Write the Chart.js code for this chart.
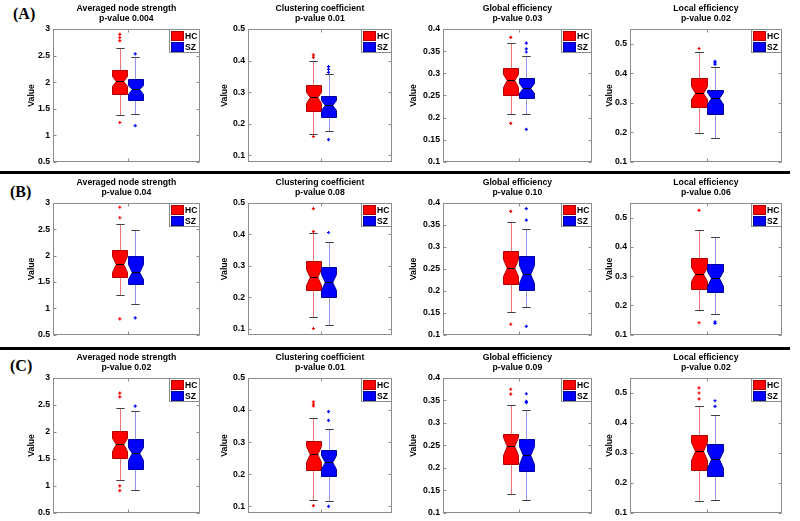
<!DOCTYPE html>
<html><head><meta charset="utf-8">
<script src="https://cdn.jsdelivr.net/npm/chart.js@4.4.1/dist/chart.umd.min.js"></script>
<style>
html,body{margin:0;padding:0;background:#fff;}
#wrap{position:relative;width:800px;height:521px;overflow:hidden;background:#fff;}
#wrap canvas{position:absolute;}
.rowlab{position:absolute;font:bold 16px "Liberation Serif","Times New Roman",serif;line-height:16px;color:#000;white-space:nowrap;}
.sep{position:absolute;left:0;width:790px;height:3px;background:#000;}
</style></head><body><div id="wrap"></div>
<script>
// ---------- data ----------
const rowLabels = ['(A)', '(B)', '(C)'];
const metricNames = ['Averaged node strength', 'Clustering coefficient', 'Global efficiency', 'Local efficiency'];
const pValues = [['0.004', '0.01', '0.03', '0.02'], ['0.04', '0.08', '0.10', '0.06'], ['0.02', '0.01', '0.09', '0.02']];
const groupLabels = ['HC', 'SZ'];
const yMins = [0.5, 0.08, 0.1, 0.1];
const yMaxs = [3, 0.5, 0.4, 0.55];
const yTicks = [[0.5, 1, 1.5, 2, 2.5, 3], [0.1, 0.2, 0.3, 0.4, 0.5], [0.1, 0.15, 0.2, 0.25, 0.3, 0.35, 0.4], [0.1, 0.2, 0.3, 0.4, 0.5]];

// HC statistics [row][metric]
const hcQ1 = [[1.775, 0.242, 0.251, 0.286], [1.595, 0.223, 0.216, 0.258], [1.51, 0.213, 0.208, 0.244]];
const hcMedian = [[2.02, 0.284, 0.284, 0.334], [1.85, 0.265, 0.253, 0.308], [1.77, 0.263, 0.248, 0.305]];
const hcQ3 = [[2.22, 0.323, 0.313, 0.383], [2.11, 0.315, 0.291, 0.362], [2.025, 0.305, 0.275, 0.359]];
const hcLowWhisker = [[1.38, 0.167, 0.207, 0.199], [1.25, 0.138, 0.152, 0.185], [1.11, 0.119, 0.141, 0.139]];
const hcHighWhisker = [[2.65, 0.40, 0.368, 0.472], [2.61, 0.404, 0.356, 0.457], [2.45, 0.374, 0.341, 0.455]];
const hcNotch = [[0.10, 0.018, 0.015, 0.022], [0.15, 0.026, 0.02, 0.025], [0.12, 0.025, 0.02, 0.03]];
const hcOutliers = [
  [[2.9, 2.84, 2.78, 1.24], [0.418, 0.41, 0.16], [0.381, 0.187], [0.484]],
  [[2.92, 2.72, 0.8], [0.482, 0.409, 0.1], [0.381, 0.124], [0.525, 0.141]],
  [[2.72, 2.65, 1.0, 0.91], [0.426, 0.419, 0.413, 0.102], [0.375, 0.364], [0.517, 0.5, 0.48]]
];
// SZ statistics [row][metric]
const szQ1 = [[1.67, 0.223, 0.243, 0.262], [1.46, 0.202, 0.202, 0.246], [1.32, 0.195, 0.192, 0.224]];
const szMedian = [[1.87, 0.26, 0.267, 0.316], [1.70, 0.249, 0.238, 0.293], [1.6, 0.237, 0.229, 0.278]];
const szQ3 = [[2.06, 0.288, 0.29, 0.344], [2.0, 0.296, 0.28, 0.343], [1.87, 0.276, 0.265, 0.331]];
const szLowWhisker = [[1.4, 0.176, 0.207, 0.182], [1.08, 0.112, 0.163, 0.172], [0.93, 0.118, 0.128, 0.142]];
const szHighWhisker = [[2.47, 0.357, 0.338, 0.42], [2.49, 0.377, 0.341, 0.435], [2.38, 0.342, 0.328, 0.427]];
const szNotch = [[0.085, 0.015, 0.012, 0.019], [0.15, 0.026, 0.02, 0.025], [0.12, 0.022, 0.02, 0.028]];
const szOutliers = [
  [[2.53, 1.18], [0.381, 0.372, 0.363, 0.15], [0.368, 0.355, 0.348, 0.173], [0.44, 0.435, 0.43]],
  [[0.82], [0.406], [0.387, 0.361, 0.119], [0.144, 0.139]],
  [[2.48], [0.395, 0.368, 0.1], [0.365, 0.348, 0.345], [0.474, 0.455]]
];

// ---------- layout / style ----------
const FONT = '"Liberation Sans", Arial, Helvetica, sans-serif';
const rowTop = [29, 203, 378], rowBottom = [162, 335, 513];
const colLeft = [53, 248, 443, 630], colRight = [201, 393, 593, 783];
const axisW = [27, 29, 35, 26];
const groupPos = [0.455, 0.56], halfBox = 0.052;
const groupStyle = [
  {fill: '#ff0000', edge: '#b00000', whisker: 'rgba(235,70,70,0.75)'},
  {fill: '#0000ff', edge: '#00009a', whisker: 'rgba(110,110,235,0.75)'}
];
const frameColor = '#8c8c8c';

const wrap = document.getElementById('wrap');
rowLabels.forEach((t, r) => {
  const d = document.createElement('div');
  d.className = 'rowlab'; d.textContent = t;
  d.style.left = (r === 0 ? 13 : 10) + 'px';
  d.style.top = [6, 184, 358][r] + 'px';
  wrap.appendChild(d);
});
[171, 347].forEach(y => {
  const d = document.createElement('div'); d.className = 'sep'; d.style.top = y + 'px'; wrap.appendChild(d);
});

const boxPlugin = {
  id: 'notchedBoxes',
  afterDatasetsDraw(chart) {
    const ctx = chart.ctx, xs = chart.scales.x, ys = chart.scales.y;
    chart.data.datasets.forEach(ds => {
      const s = ds.stats; if (!s) return;
      const xc = Math.round(xs.getPixelForValue(s.pos)) + 0.5;
      const xl = Math.round(xs.getPixelForValue(s.pos - halfBox)) + 0.5;
      const xr = Math.round(xs.getPixelForValue(s.pos + halfBox)) + 0.5;
      const w = xr - xl, ind = w * 0.25;
      const py = v => Math.round(ys.getPixelForValue(v)) + 0.5;
      const yq1 = py(s.q1), yq3 = py(s.q3), ym = py(s.med), ylo = py(s.lo), yhi = py(s.hi);
      const ynh = py(s.med + s.notch), ynl = py(s.med - s.notch);
      ctx.save();
      ctx.lineWidth = 1;
      ctx.strokeStyle = s.whisker;
      ctx.beginPath();
      ctx.moveTo(xc, yq3); ctx.lineTo(xc, yhi);
      ctx.moveTo(xc, yq1); ctx.lineTo(xc, ylo);
      ctx.stroke();
      ctx.strokeStyle = '#404040';
      ctx.beginPath();
      ctx.moveTo(xc - w * 0.28, yhi); ctx.lineTo(xc + w * 0.28, yhi);
      ctx.moveTo(xc - w * 0.28, ylo); ctx.lineTo(xc + w * 0.28, ylo);
      ctx.stroke();
      ctx.beginPath();
      ctx.moveTo(xl, yq3); ctx.lineTo(xl, ynh); ctx.lineTo(xl + ind, ym); ctx.lineTo(xl, ynl); ctx.lineTo(xl, yq1);
      ctx.lineTo(xr, yq1); ctx.lineTo(xr, ynl); ctx.lineTo(xr - ind, ym); ctx.lineTo(xr, ynh); ctx.lineTo(xr, yq3);
      ctx.closePath();
      ctx.fillStyle = s.fill; ctx.fill();
      ctx.strokeStyle = s.edge; ctx.stroke();
      ctx.strokeStyle = '#000';
      ctx.beginPath(); ctx.moveTo(xl + ind, ym); ctx.lineTo(xr - ind, ym); ctx.stroke();
      ctx.restore();
    });
  },
  afterDraw(chart) {
    const ctx = chart.ctx, ca = chart.chartArea, ys = chart.scales.y, xs = chart.scales.x;
    const L = Math.round(ca.left) + 0.5, R = Math.round(ca.right) - 0.5, T = Math.round(ca.top) + 0.5, B = Math.round(ca.bottom) - 0.5;
    ctx.save();
    ctx.strokeStyle = frameColor; ctx.lineWidth = 1;
    ctx.strokeRect(L, T, R - L, B - T);
    ctx.beginPath();
    ys.ticks.forEach(t => {
      const y = Math.round(ys.getPixelForValue(t.value)) + 0.5;
      ctx.moveTo(L, y); ctx.lineTo(L + 3, y);
      ctx.moveTo(R, y); ctx.lineTo(R - 3, y);
    });
    const xm = Math.round(xs.getPixelForValue((groupPos[0] + groupPos[1]) / 2)) + 0.5;
    ctx.moveTo(xm, B); ctx.lineTo(xm, B - 3);
    ctx.moveTo(xm, T); ctx.lineTo(xm, T + 3);
    ctx.stroke();
    // legend
    const lw = 31, lh = 24, lx = Math.round(ca.right) - lw, ly = Math.round(ca.top);
    ctx.fillStyle = '#fff'; ctx.fillRect(lx, ly, lw, lh);
    ctx.strokeStyle = frameColor; ctx.strokeRect(lx + 0.5, ly + 0.5, lw - 1, lh - 1);
    chart.data.datasets.forEach((ds, i) => {
      const yy = ly + 2 + i * 11;
      ctx.fillStyle = ds.stats.fill; ctx.fillRect(lx + 2, yy, 13, 10);
      ctx.strokeStyle = ds.stats.edge; ctx.strokeRect(lx + 2.5, yy + 0.5, 12, 9);
      ctx.fillStyle = '#000'; ctx.font = 'bold 8.5px ' + FONT; ctx.textBaseline = 'middle'; ctx.textAlign = 'left';
      ctx.fillText(ds.label, lx + 16, yy + 5.5);
    });
    ctx.restore();
  }
};

function makePanel(r, c) {
  const cv = document.createElement('canvas');
  const left = colLeft[c] - axisW[c], top = rowTop[r] - 29;
  const w = axisW[c] + (colRight[c] - colLeft[c]) + 4;
  const h = 29 + (rowBottom[r] - rowTop[r]) + 8;
  cv.width = w; cv.height = h;
  cv.style.left = left + 'px'; cv.style.top = top + 'px';
  cv.style.width = w + 'px'; cv.style.height = h + 'px';
  wrap.appendChild(cv);
  const statsSets = [
    {q1: hcQ1, med: hcMedian, q3: hcQ3, lo: hcLowWhisker, hi: hcHighWhisker, notch: hcNotch, out: hcOutliers},
    {q1: szQ1, med: szMedian, q3: szQ3, lo: szLowWhisker, hi: szHighWhisker, notch: szNotch, out: szOutliers}
  ];
  const datasets = statsSets.map((g, gi) => ({
    label: groupLabels[gi],
    data: g.out[r][c].map(v => ({x: groupPos[gi], y: v})),
    pointStyle: 'cross', pointRadius: 1.6, pointBorderWidth: 1.2,
    borderColor: groupStyle[gi].fill, backgroundColor: groupStyle[gi].fill,
    stats: {pos: groupPos[gi], q1: g.q1[r][c], med: g.med[r][c], q3: g.q3[r][c], lo: g.lo[r][c], hi: g.hi[r][c], notch: g.notch[r][c],
      fill: groupStyle[gi].fill, edge: groupStyle[gi].edge, whisker: groupStyle[gi].whisker}
  }));
  new Chart(cv, {
    type: 'scatter',
    data: {datasets},
    options: {
      responsive: false, animation: false, devicePixelRatio: 1,
      layout: {padding: {left: 0, right: 4, top: 0, bottom: 8}},
      plugins: {
        legend: {display: false}, tooltip: {enabled: false},
        title: {display: true, fullSize: false, text: [metricNames[c], 'p-value ' + pValues[r][c]], color: '#000',
          font: {family: FONT, size: 8.7, weight: 'bold', lineHeight: 1.15}, padding: {top: 4, bottom: 5}}
      },
      scales: {
        x: {type: 'linear', min: 0, max: 1, display: false},
        y: {
          type: 'linear', min: yMins[c], max: yMaxs[c],
          afterBuildTicks: s => { s.ticks = yTicks[c].map(v => ({value: v})); },
          afterFit: s => { s.width = axisW[c]; },
          grid: {display: false, drawTicks: false}, border: {display: false},
          ticks: {color: '#000', padding: 3, font: {family: FONT, size: 8.7, weight: 'bold'}, callback: v => String(v)},
          title: {display: true, text: 'Value', color: '#000', padding: 0, font: {family: FONT, size: 8.7, weight: 'bold', lineHeight: 1.2}}
        }
      }
    },
    plugins: [boxPlugin]
  });
}
for (let r = 0; r < 3; r++) for (let c = 0; c < 4; c++) makePanel(r, c);
</script></body></html>
